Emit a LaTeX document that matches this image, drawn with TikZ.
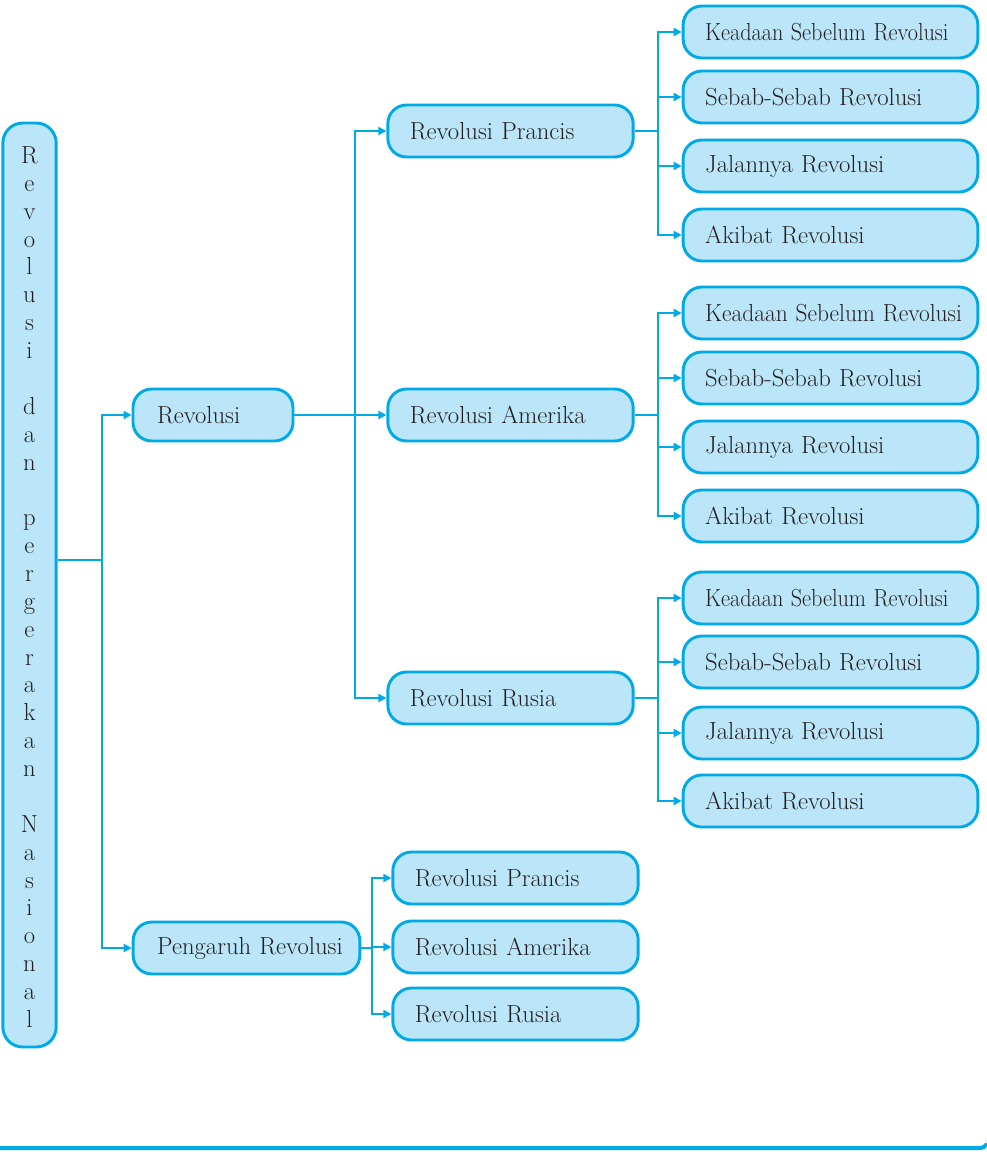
\documentclass[tikz,border=0pt]{standalone}
\usetikzlibrary{arrows.meta}
\definecolor{cblue}{RGB}{0,170,230}
\definecolor{cfill}{RGB}{187,229,248}
\definecolor{ctext}{RGB}{35,31,32}
\newcommand{\boxfont}{\fontsize{18.5}{22}\selectfont\spaceskip=0.55em plus 0.1em minus 0.05em\relax}
\tikzset{
  box/.style={draw=cblue, fill=cfill, line width=2.2pt, rounded corners=14pt,
    minimum height=39pt, inner xsep=16.5pt, inner ysep=0pt, align=left,
    font=\boxfont, text=ctext},
  l2box/.style={box, text width=151pt},
  leafbox/.style={box, text width=188pt},
  pbox/.style={box, text width=151pt},
  conn/.style={draw=cblue, line width=1.6pt},
  arr/.style={conn, -{Triangle[length=6pt,width=6pt]}},
}
\begin{document}
\begin{tikzpicture}[x=0.75pt,y=-0.75pt]
\useasboundingbox (0,0) rectangle (986,1152);
% main vertical box
\node[draw=cblue, fill=cfill, line width=2.2pt, rounded corners=15pt,
  minimum width=40pt, minimum height=693pt, inner sep=0pt] (main) at (29.5,585) {};
\node[align=center, font=\fontsize{18.5}{20.9}\selectfont, text=ctext, inner sep=0pt] (maintext) at (29.5,587)
 {R\\e\\v\\o\\l\\u\\s\\i\\[20.9pt]d\\a\\n\\[20.9pt]p\\e\\r\\g\\e\\r\\a\\k\\a\\n\\[20.9pt]N\\a\\s\\i\\o\\n\\a\\l};
% level 1
\node[box, text width=84pt, inner xsep=18pt] (rev) at (213,415) {Revolusi};
\node[box, text width=134pt, inner xsep=18pt] (peng) at (246.5,948) {\mbox{Pengaruh Revolusi}};
% level 2
\node[l2box] (rpr) at (510.5,131) {Revolusi Prancis};
\node[l2box] (ram) at (510.5,415) {Revolusi Amerika};
\node[l2box] (rru) at (510.5,698) {Revolusi Rusia};
% pengaruh children
\node[pbox] (ppr) at (515.5,878) {Revolusi Prancis};
\node[pbox] (pam) at (515.5,947) {Revolusi Amerika};
\node[pbox] (pru) at (515.5,1014) {Revolusi Rusia};
% leaves group 1
\node[leafbox] (a1) at (830.5,32) {\scalebox{0.9}[1]{Keadaan Sebelum Revolusi}};
\node[leafbox] (a2) at (830.5,97) {Sebab-Sebab Revolusi};
\node[leafbox] (a3) at (830.5,166) {Jalannya Revolusi};
\node[leafbox] (a4) at (830.5,235) {Akibat Revolusi};
% leaves group 2
\node[leafbox] (b1) at (830.5,313) {\scalebox{0.95}[1]{Keadaan Sebelum Revolusi}};
\node[leafbox] (b2) at (830.5,378) {Sebab-Sebab Revolusi};
\node[leafbox] (b3) at (830.5,447) {Jalannya Revolusi};
\node[leafbox] (b4) at (830.5,516) {Akibat Revolusi};
% leaves group 3
\node[leafbox] (c1) at (830.5,598) {\scalebox{0.9}[1]{Keadaan Sebelum Revolusi}};
\node[leafbox] (c2) at (830.5,662) {Sebab-Sebab Revolusi};
\node[leafbox] (c3) at (830.5,733) {Jalannya Revolusi};
\node[leafbox] (c4) at (830.5,801) {Akibat Revolusi};
% junctions
\coordinate (j1) at (102,560);
\coordinate (j2) at (355,415);
\coordinate (ja) at (658,131);
\coordinate (jb) at (658,415);
\coordinate (jc) at (658,698);
\coordinate (jp) at (372,948);
% connectors
\draw[conn] (main.east |- j1) -- (j1);
\draw[arr] (j1) |- (rev.west);
\draw[arr] (j1) |- (peng.west);
\draw[arr] (rev.east) -- (ram.west);
\draw[arr] (j2) |- (rpr.west);
\draw[arr] (j2) |- (rru.west);
\draw[conn] (rpr.east) -- (ja);
\draw[conn] (ram.east) -- (jb);
\draw[conn] (rru.east) -- (jc);
\foreach \n in {a1,a2,a3,a4} \draw[arr] (ja) |- (\n.west);
\foreach \n in {b1,b2,b3,b4} \draw[arr] (jb) |- (\n.west);
\foreach \n in {c1,c2,c3,c4} \draw[arr] (jc) |- (\n.west);
\draw[conn] (peng.east) -- (jp);
\foreach \n in {ppr,pam,pru} \draw[arr] (jp) |- (\n.west);
% bottom rule
\draw[cblue, line width=3pt] (0,1148) -- (978,1148) .. controls (983,1148) and (985,1147) .. (987,1144);
\end{tikzpicture}
\end{document}
